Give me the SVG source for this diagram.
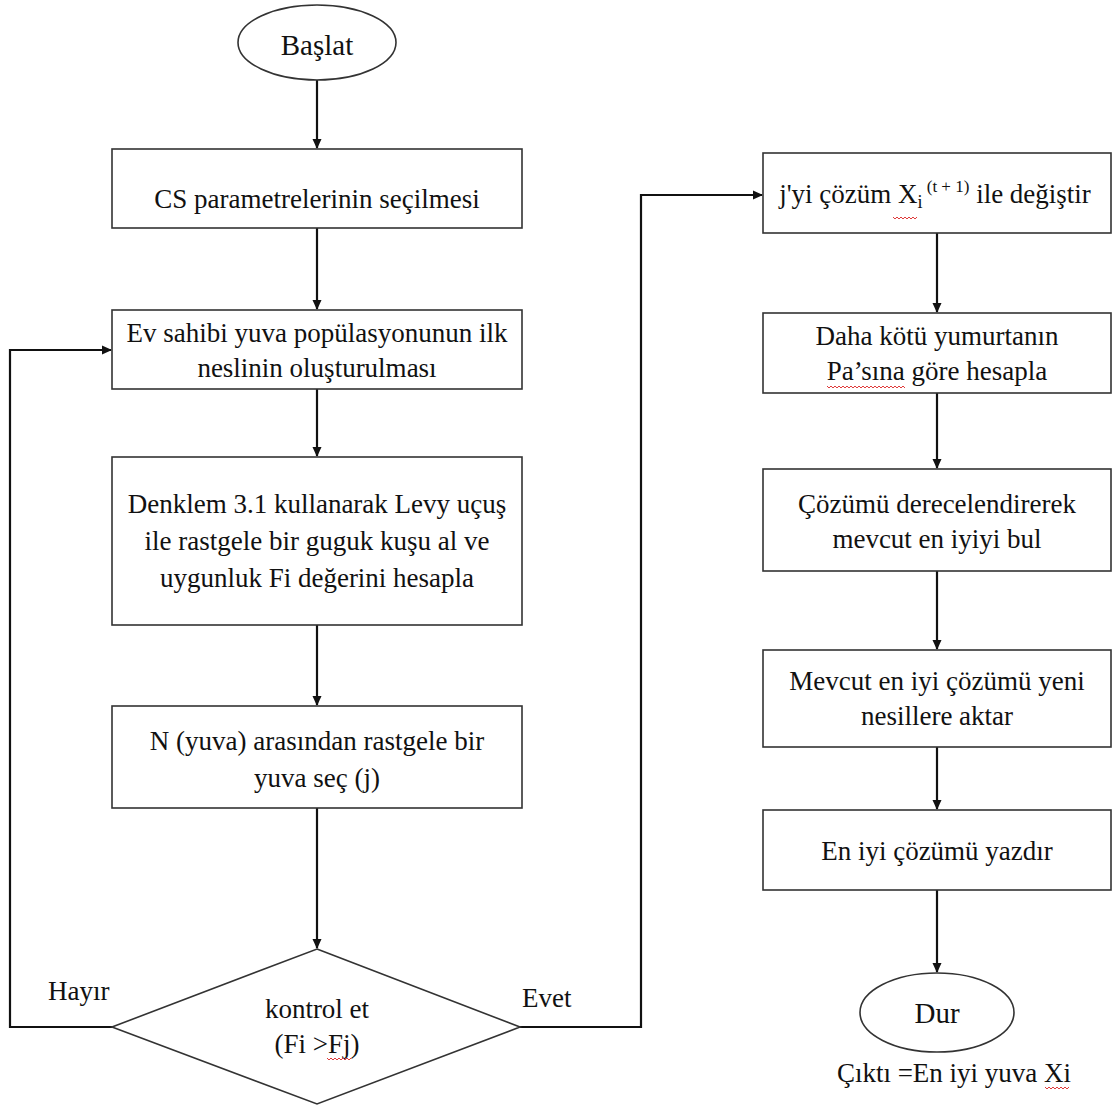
<svg xmlns="http://www.w3.org/2000/svg" width="1117" height="1108" viewBox="0 0 1117 1108">
  <style>
    .box { fill: #ffffff; stroke: #333333; stroke-width: 1.6; }
    .lbl { font-family: "Liberation Serif", "Times New Roman", serif; font-size: 27px; fill: #111111; text-anchor: middle; }
    .side { font-family: "Liberation Serif", "Times New Roman", serif; font-size: 27px; fill: #111111; }
    .big { font-size: 29px; }
    .wire { fill: none; stroke: #111111; stroke-width: 2.2; }
    .arrow { fill: none; stroke: #111111; stroke-width: 2.2; marker-end: url(#head); }
    .squiggle { fill: none; stroke: #e03a3a; stroke-width: 1; }
  </style>
  <defs>
    <marker id="head" markerWidth="10" markerHeight="10" refX="9" refY="5" orient="auto" markerUnits="userSpaceOnUse">
      <path d="M0,0.5 L10,5 L0,9.5 Z" fill="#111111"/>
    </marker>
  </defs>

  <rect width="1117" height="1108" fill="#ffffff"/>

  <!-- connectors -->
  <g id="connectors">
    <path class="arrow" d="M317,80 V148"/>
    <path class="arrow" d="M317,228 V309"/>
    <path class="arrow" d="M317,389 V456"/>
    <path class="arrow" d="M317,625 V705"/>
    <path class="arrow" d="M317,808 V948"/>
    <!-- "Hayır" loop back -->
    <path class="arrow" d="M112,1027 H10 V350 H111"/>
    <!-- "Evet" branch -->
    <path class="arrow" d="M520,1027 H641 V195 H762"/>
    <path class="arrow" d="M937,233 V312"/>
    <path class="arrow" d="M937,393 V468"/>
    <path class="arrow" d="M937,571 V649"/>
    <path class="arrow" d="M937,747 V809"/>
    <path class="arrow" d="M937,890 V972"/>
  </g>

  <!-- left column -->
  <g id="start">
    <ellipse class="box" cx="317" cy="42.5" rx="79" ry="37.5"/>
    <text class="lbl big" x="317" y="55">Başlat</text>
  </g>

  <g id="params">
    <rect class="box" x="112" y="149" width="410" height="79"/>
    <text class="lbl" x="317" y="208">CS parametrelerinin seçilmesi</text>
  </g>

  <g id="init">
    <rect class="box" x="112" y="310" width="410" height="79"/>
    <text class="lbl" x="317" y="342">Ev sahibi yuva popülasyonunun  ilk</text>
    <text class="lbl" x="317" y="377">neslinin oluşturulması</text>
  </g>

  <g id="levy">
    <rect class="box" x="112" y="457" width="410" height="168"/>
    <text class="lbl" x="317" y="513">Denklem 3.1 kullanarak Levy uçuş</text>
    <text class="lbl" x="317" y="550">ile rastgele bir guguk kuşu al ve</text>
    <text class="lbl" x="317" y="587">uygunluk Fi değerini hesapla</text>
  </g>

  <g id="pick">
    <rect class="box" x="112" y="706" width="410" height="102"/>
    <text class="lbl" x="317" y="750">N (yuva) arasından rastgele bir</text>
    <text class="lbl" x="317" y="787">yuva seç (j)</text>
  </g>

  <g id="check">
    <polygon class="box" points="317,949 520,1027 317,1104 112,1027"/>
    <text class="lbl" x="317" y="1018">kontrol et</text>
    <text class="lbl" x="317" y="1053">(Fi &gt;Fj)</text>
    <path class="squiggle" d="M327,1058 l2,2 l2,-2 l2,2 l2,-2 l2,2 l2,-2 l2,2 l2,-2 l2,2 l2,-2 l2,2 l2,-2"/>
  </g>

  <g id="labels">
    <text class="side" x="48" y="1000">Hayır</text>
    <text class="side" x="522" y="1007">Evet</text>
  </g>

  <!-- right column -->
  <g id="replace">
    <rect class="box" x="763" y="153" width="348" height="80"/>
    <text class="lbl" x="935" y="203">j'yi çözüm X<tspan font-size="18" dy="5">i</tspan><tspan font-size="17" dy="-16"> (t + 1)</tspan><tspan dy="11"> ile değiştir</tspan></text>
    <path class="squiggle" d="M893,217 l2,2 l2,-2 l2,2 l2,-2 l2,2 l2,-2 l2,2 l2,-2 l2,2 l2,-2 l2,2 l2,-2"/>
  </g>

  <g id="abandon">
    <rect class="box" x="763" y="313" width="348" height="80"/>
    <text class="lbl" x="937" y="345">Daha kötü  yumurtanın</text>
    <text class="lbl" x="937" y="380">Pa’sına göre hesapla</text>
    <path class="squiggle" d="M827,386 l2,2 l2,-2 l2,2 l2,-2 l2,2 l2,-2 l2,2 l2,-2 l2,2 l2,-2 l2,2 l2,-2 l2,2 l2,-2 l2,2 l2,-2 l2,2 l2,-2 l2,2 l2,-2 l2,2 l2,-2 l2,2 l2,-2 l2,2 l2,-2 l2,2 l2,-2 l2,2 l2,-2 l2,2 l2,-2 l2,2 l2,-2 l2,2 l2,-2 l2,2 l2,-2 l2,2"/>
  </g>

  <g id="rank">
    <rect class="box" x="763" y="469" width="348" height="102"/>
    <text class="lbl" x="937" y="513">Çözümü  derecelendirerek</text>
    <text class="lbl" x="937" y="548">mevcut  en iyiyi bul</text>
  </g>

  <g id="carry">
    <rect class="box" x="763" y="650" width="348" height="97"/>
    <text class="lbl" x="937" y="690">Mevcut  en iyi çözümü  yeni</text>
    <text class="lbl" x="937" y="725">nesillere aktar</text>
  </g>

  <g id="print">
    <rect class="box" x="763" y="810" width="348" height="80"/>
    <text class="lbl" x="937" y="860">En iyi çözümü  yazdır</text>
  </g>

  <g id="stop">
    <ellipse class="box" cx="937" cy="1012.5" rx="77" ry="39.5"/>
    <text class="lbl big" x="937" y="1023">Dur</text>
  </g>

  <g id="output">
    <text class="lbl" x="954" y="1082">Çıktı =En  iyi yuva Xi</text>
    <path class="squiggle" d="M1045,1087 l2,2 l2,-2 l2,2 l2,-2 l2,2 l2,-2 l2,2 l2,-2 l2,2 l2,-2 l2,2 l2,-2"/>
  </g>
</svg>
